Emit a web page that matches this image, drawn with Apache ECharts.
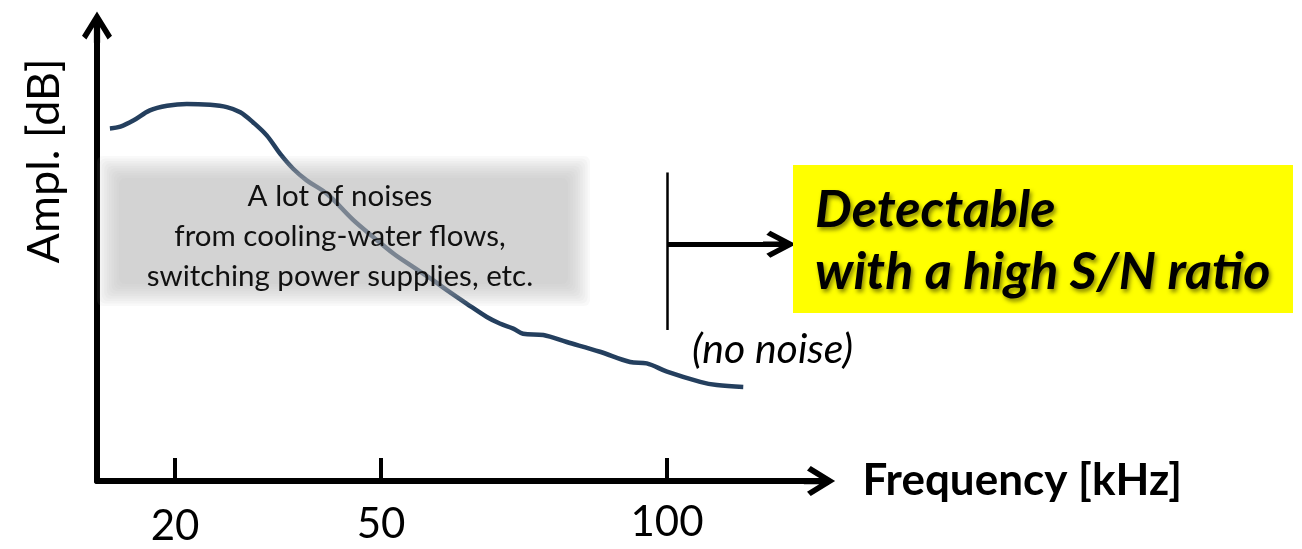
<!DOCTYPE html>
<html>
<head>
<meta charset="utf-8">
<script src="https://cdn.jsdelivr.net/npm/echarts@6/dist/echarts.min.js"></script>
<style>
  html, body { margin: 0; padding: 0; background: #ffffff; }
  #chart { width: 1302px; height: 549px; }
</style>
</head>
<body>
<div id="chart"></div>
<script>
// Sketched noise spectrum: amplitude falls off with frequency
const freqKHz = [9.4, 11.1, 13.2, 15.9, 18.7, 21.9, 25.7, 28.4, 30.6, 32.7, 34.9, 37.1, 39.2, 41.4,
  44.7, 49.0, 52.2, 55.5, 58.7, 62.0, 64.2, 67.4, 70.7, 72.8, 75.0, 76.6, 79.9, 83.7, 89.1, 94.0,
  96.7, 100.0, 105.4, 108.1, 112.4];
const amplDB = [76.1, 76.5, 77.8, 80.0, 81.0, 81.4, 81.2, 80.7, 79.6, 77.4, 74.6, 70.6, 67.4, 64.9,
  62.0, 56.3, 52.7, 49.1, 46.2, 43.3, 41.2, 38.3, 35.4, 34.0, 32.9, 31.8, 31.5, 30.0, 27.9, 25.7,
  25.4, 23.6, 21.4, 20.7, 20.3];

// Frequency axis ticks (the axis is a sketch, so the ticks sit where they are drawn)
const tickLabels = ['20', '50', '100'];
const tickValues = [20, 53.5, 100];

// Cut-off marker at 100 kHz and the arrow pointing to the quiet band
const cutoffKHz = 100;
const cutoffRange = [32.6, 66.6];
const arrowLevel = 51.1;
const arrowEndKHz = 118.3;

// Open chevron arrow head with a short stem so it joins the shaft
const chevron = 'path://M50 0 L98 78 L84 90 L60 51 L60 100 L40 100 L40 51 L16 90 L2 78 Z';

const pairs = freqKHz.map((f, i) => [f, amplDB[i]]);
const FONT = 'Lato';

// Soft-edged grey note panel: stacked translucent rectangles fade out at the border
function softPanel(x, y, w, h, feather, steps, alpha) {
  const els = [];
  const a = 1 - Math.pow(1 - alpha, 1 / steps);
  for (let i = 0; i < steps; i++) {
    const inset = feather * (i / (steps - 1)) - feather / 2;
    els.push({
      type: 'rect', z: 10, silent: true,
      shape: { x: x + inset, y: y + inset, width: w - 2 * inset, height: h - 2 * inset, r: 6 },
      style: { fill: 'rgba(190,190,190,' + a.toFixed(4) + ')' }
    });
  }
  return els;
}

const chart = echarts.init(document.getElementById('chart'), null, { renderer: 'canvas' });
chart.setOption({
  animation: false,
  backgroundColor: '#ffffff',
  grid: { left: 97, right: 482.5, top: 27, bottom: 68, outerBoundsMode: 'none' },
  xAxis: {
    type: 'value',
    min: 7.3,
    max: 124.8,
    name: 'Frequency [kHz]',
    nameLocation: 'end',
    nameGap: 43,
    nameTextStyle: { fontFamily: FONT, fontWeight: 'bold', fontSize: 44, color: '#000', padding: [14, 0, 0, 0] },
    axisLine: {
      show: true, onZero: false,
      symbol: ['none', chevron], symbolSize: [30, 37],
      lineStyle: { color: '#000', width: 6 }
    },
    axisTick: { show: true, inside: true, length: 23, customValues: tickValues, lineStyle: { color: '#000', width: 4 } },
    axisLabel: {
      show: true,
      customValues: tickValues,
      margin: 20,
      formatter: (v) => {
        const i = tickValues.indexOf(v);
        return '{t' + i + '|' + tickLabels[i] + '}';
      },
      rich: {
        t0: { fontFamily: FONT, fontSize: 42, lineHeight: 42, color: '#000', padding: [9, 0, 0, 0] },
        t1: { fontFamily: FONT, fontSize: 42, lineHeight: 42, color: '#000', padding: [5, 0, 0, 0] },
        t2: { fontFamily: FONT, fontSize: 42, lineHeight: 42, color: '#000', padding: [0, 0, 0, 0] }
      }
    },
    splitLine: { show: false }
  },
  yAxis: {
    type: 'value',
    min: 0,
    max: 98,
    name: 'Ampl. [dB]',
    nameLocation: 'middle',
    nameRotate: 90,
    nameGap: 30,
    nameTextStyle: { fontFamily: FONT, fontSize: 45, color: '#000', padding: [0, 0, 0, 186] },
    axisLine: {
      show: true, onZero: false,
      symbol: ['none', chevron], symbolSize: [30, 37],
      lineStyle: { color: '#000', width: 6 }
    },
    axisTick: { show: false },
    axisLabel: { show: false },
    splitLine: { show: false }
  },
  series: [{
    type: 'line',
    data: pairs,
    smooth: 0.35,
    showSymbol: false,
    silent: true,
    z: 2,
    lineStyle: { color: '#243f5e', width: 4.5 },
    markLine: {
      silent: true,
      animation: false,
      label: { show: false },
      emphasis: { disabled: true },
      data: [
        [
          { coord: [cutoffKHz, cutoffRange[0]], symbol: 'none', lineStyle: { color: '#000', width: 2.5, type: 'solid' } },
          { coord: [cutoffKHz, cutoffRange[1]], symbol: 'none' }
        ],
        [
          { coord: [cutoffKHz, arrowLevel], symbol: 'none', lineStyle: { color: '#000', width: 5, type: 'solid' } },
          { coord: [arrowEndKHz, arrowLevel], symbol: chevron, symbolSize: [27, 33] }
        ]
      ]
    }
  }],
  graphic: softPanel(108, 167, 471, 128, 22, 10, 0.6).concat([
    {
      type: 'text', z: 11, silent: true,
      style: {
        text: 'A lot of noises\nfrom cooling-water flows,\nswitching power supplies, etc.',
        x: 340, y: 236, align: 'center', verticalAlign: 'middle',
        fontFamily: FONT, fontSize: 29.5, lineHeight: 40, fill: '#111'
      }
    },
    {
      type: 'rect', z: 10, silent: true,
      shape: { x: 793, y: 165, width: 500, height: 148 },
      style: { fill: '#ffff00' }
    },
    {
      type: 'text', z: 11, silent: true,
      style: {
        text: 'Detectable\nwith a high S/N ratio',
        x: 815, y: 241, align: 'left', verticalAlign: 'middle',
        fontFamily: FONT, fontWeight: 'bold', fontStyle: 'italic', fontSize: 52, lineHeight: 62,
        fill: '#000',
        textShadowColor: 'rgba(40,40,0,0.55)', textShadowBlur: 4, textShadowOffsetX: 2, textShadowOffsetY: 3
      }
    },
    {
      type: 'text', z: 11, silent: true,
      style: {
        text: '(no noise)',
        x: 692, y: 350, align: 'left', verticalAlign: 'middle',
        fontFamily: FONT, fontStyle: 'italic', fontSize: 41, fill: '#000'
      }
    }
  ])
});
</script>
</body>
</html>
